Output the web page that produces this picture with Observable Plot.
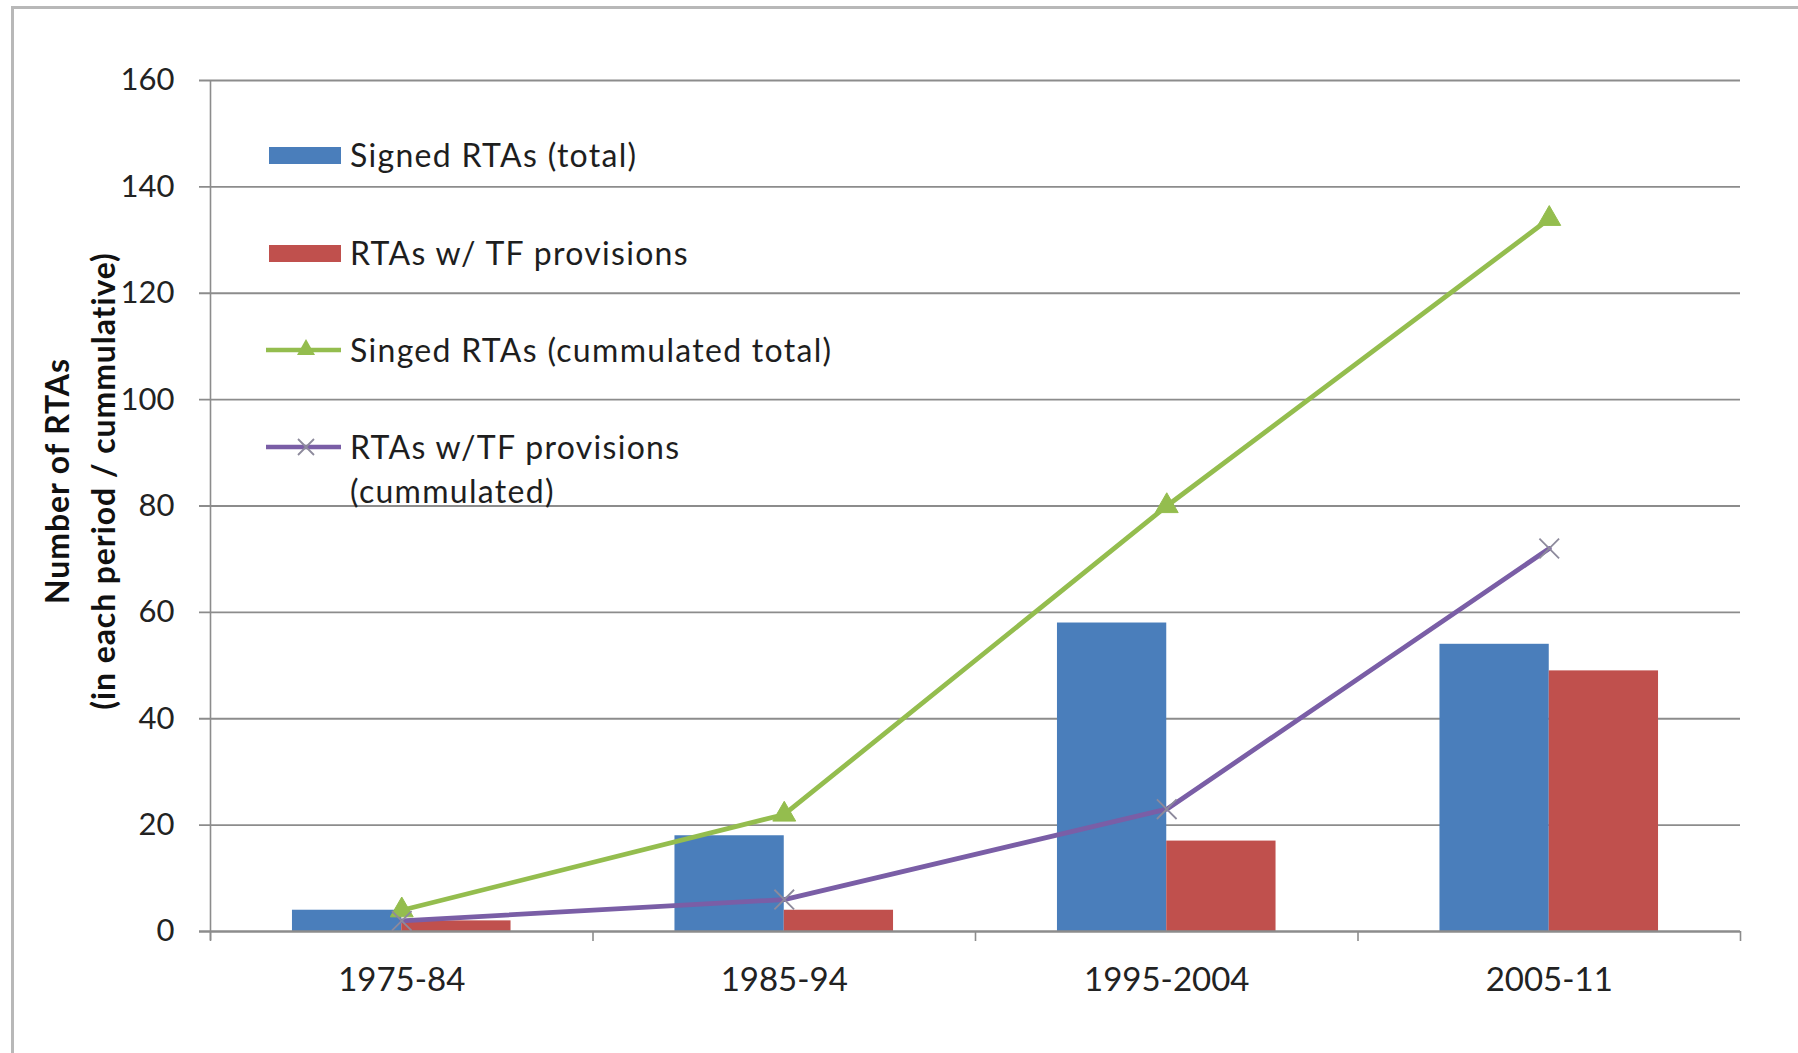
<!DOCTYPE html>
<html>
<head>
<meta charset="utf-8">
<script src="https://cdn.jsdelivr.net/npm/d3@7"></script>
<script src="https://cdn.jsdelivr.net/npm/@observablehq/plot@0.6"></script>
<style>
  html, body { margin: 0; padding: 0; background: #fff; }
  #wrap { position: relative; width: 1798px; height: 1053px; overflow: hidden; font-family: Lato, "Open Sans", sans-serif; color: #1e1e1e; }
  #frame { position: absolute; left: 11px; top: 6px; width: 1790px; height: 1100px; border: 3px solid #b8b8b8; box-sizing: border-box; }
  #chart { position: absolute; left: 0; top: 0; }
  .ytitle { position: absolute; left: 80px; top: 481px; transform: translate(-50%, -50%) rotate(-90deg); white-space: nowrap; text-align: center; font-weight: 700; font-size: 32px; letter-spacing: 0.9px; line-height: 46px; color: #111; }
  .leg { position: absolute; left: 266px; display: flex; align-items: center; font-size: 32px; letter-spacing: 1.3px; line-height: 44px; color: #1e1e1e; }
  .leg svg { flex: none; margin-right: 9px; }
</style>
</head>
<body>
<div id="wrap">
  <div id="frame"></div>
  <div id="chart"></div>
  <div class="ytitle">Number of RTAs<br>(in each period / cummulative)</div>
  <div id="legend"></div>
</div>
<script>
// ---- data ----
const periods = ["1975-84", "1985-94", "1995-2004", "2005-11"];
const signedTotal = [4, 18, 58, 54];
const tfProvisions = [2, 4, 17, 49];
const signedCumulated = [4, 22, 80, 134];
const tfCumulated = [2, 6, 23, 72];
const yTicks = [0, 20, 40, 60, 80, 100, 120, 140, 160];
const seriesNames = [
  "Signed RTAs (total)",
  "RTAs w/ TF provisions",
  "Singed RTAs (cummulated total)",
  "RTAs w/TF provisions (cummulated)"
];
const colors = ["#4a7ebb", "#c0504d", "#94bd4e", "#7a5ea6"];

// ---- layout helpers (band = 1 unit, Excel gap width 150%) ----
const barW = 1 / 3.5;
const rows = periods.map((p, i) => ({
  i, period: p,
  signed: signedTotal[i], tf: tfProvisions[i],
  cumSigned: signedCumulated[i], cumTf: tfCumulated[i]
}));
const mid = d => d.i + 0.5;
const grid = "#8c8c8c";

const chart = Plot.plot({
  width: 1798,
  height: 1053,
  marginLeft: 210,
  marginRight: 58,
  marginTop: 80,
  marginBottom: 122,
  x: { type: "linear", domain: [0, 4], axis: null },
  y: { domain: [0, 160], axis: null },
  style: { fontFamily: "Lato, 'Open Sans', sans-serif", background: "transparent", color: "#222" },
  marks: [
    Plot.gridY(yTicks.filter(d => d > 0), { stroke: grid, strokeOpacity: 1, strokeWidth: 1.8, insetLeft: -11 }),
    Plot.axisY(yTicks, { tickSize: 0, tickPadding: 36, fontSize: 31, fill: "#222" }),
    Plot.ruleX([0], { stroke: grid, strokeWidth: 1.6, insetBottom: -9 }),
    Plot.axisX([0, 1, 2, 3, 4], { tickSize: 10, tickFormat: () => "", stroke: grid, strokeWidth: 1.6 }),
    Plot.axisX([0.5, 1.5, 2.5, 3.5], { tickSize: 0, tickPadding: 36, fontSize: 33, fill: "#222", tickFormat: d => periods[Math.floor(d)] }),
    Plot.rectY(rows, { x1: d => mid(d) - barW, x2: d => mid(d), y1: 0, y2: "signed", fill: colors[0] }),
    Plot.rectY(rows, { x1: d => mid(d), x2: d => mid(d) + barW, y1: 0, y2: "tf", fill: colors[1] }),
    Plot.ruleY([0], { stroke: grid, strokeWidth: 2.6, insetLeft: -11 }),
    Plot.line(rows, { x: mid, y: "cumSigned", stroke: colors[2], strokeWidth: 4.8 }),
    Plot.dot(rows, { x: mid, y: "cumSigned", symbol: "triangle", r: 8.5, fill: colors[2], stroke: colors[2], strokeWidth: 1 }),
    Plot.line(rows, { x: mid, y: "cumTf", stroke: colors[3], strokeWidth: 4.8 }),
    Plot.dot(rows, { x: mid, y: "cumTf", symbol: "times", r: 9, stroke: "#8d8a9c", strokeWidth: 1.8 })
  ]
});
document.getElementById("chart").appendChild(chart);

// ---- legend ----
const legendTops = [133, 231, 328, 425];
const legend = document.getElementById("legend");
seriesNames.forEach((name, k) => {
  const row = document.createElement("div");
  row.className = "leg";
  row.style.top = legendTops[k] + "px";
  let sw;
  if (k < 2) {
    sw = `<svg width="75" height="20"><rect x="3" y="2" width="72" height="17" fill="${colors[k]}"/></svg>`;
  } else if (k === 2) {
    sw = `<svg width="75" height="30"><line x1="0" y1="15" x2="75" y2="15" stroke="${colors[2]}" stroke-width="4.5"/><path d="M40,4 L49,20 L31,20 Z" fill="${colors[2]}"/></svg>`;
  } else {
    sw = `<svg width="75" height="30"><line x1="0" y1="15" x2="75" y2="15" stroke="${colors[3]}" stroke-width="4.5"/><path d="M32,7 L48,23 M48,7 L32,23" stroke="#8d8a9c" stroke-width="1.8"/></svg>`;
  }
  if (k === 3) {
    row.style.alignItems = "flex-start";
    row.innerHTML = sw.replace('<svg', '<svg style="margin-top:7px"') + `<div>RTAs w/TF provisions<br>(cummulated)</div>`;
  } else {
    row.innerHTML = sw + `<div>${name}</div>`;
  }
  legend.appendChild(row);
});
</script>
</body>
</html>
